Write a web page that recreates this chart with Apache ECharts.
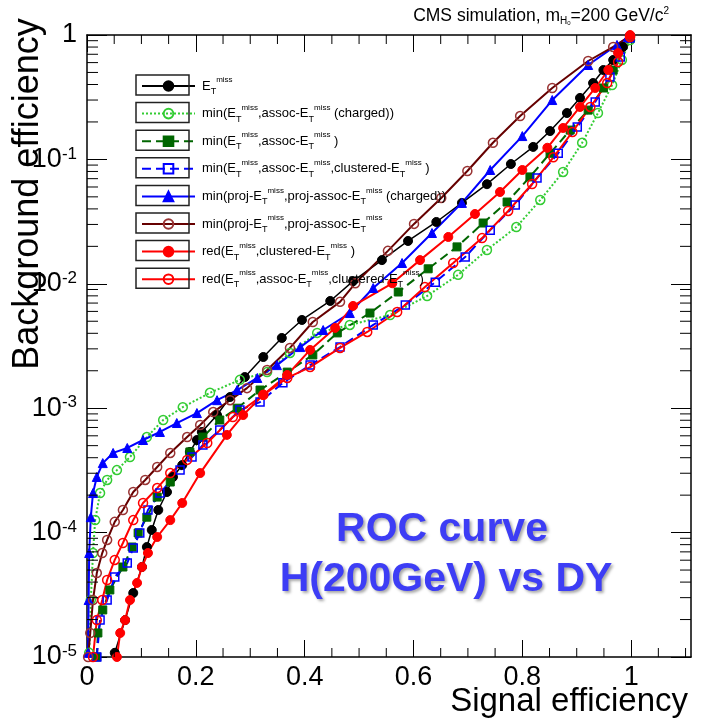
<!DOCTYPE html>
<html>
<head>
<meta charset="utf-8">
<script src="https://cdn.jsdelivr.net/npm/echarts@6/dist/echarts.min.js"></script>
<style>
html,body{margin:0;padding:0;background:#fff;}
#chart{width:702px;height:721px;}
</style>
</head>
<body>
<div id="chart"></div>
<script>
// ---------- data (signal efficiency, background efficiency) ----------
const metPts = [[0.051,1.08e-5],[0.070,1.98e-5],[0.085,3.27e-5],[0.101,5.29e-5],[0.110,7.66e-5],[0.119,1.05e-4],[0.131,1.52e-4],[0.147,2.12e-4],[0.158,2.80e-4],[0.175,3.49e-4],[0.189,4.45e-4],[0.202,5.55e-4],[0.211,6.44e-4],[0.239,8.81e-4],[0.263,1.23e-3],[0.290,1.78e-3],[0.324,2.58e-3],[0.358,3.67e-3],[0.395,5.12e-3],[0.447,7.28e-3],[0.489,1.05e-2],[0.542,1.55e-2],[0.590,2.21e-2],[0.642,3.14e-2],[0.689,4.47e-2],[0.735,6.32e-2],[0.779,9.18e-2],[0.820,0.126],[0.851,0.169],[0.882,0.236],[0.906,0.312],[0.930,0.411],[0.949,0.523],[0.967,0.630],[0.985,0.802],[0.998,0.964]];
const assocChgPts = [[0.004,1.08e-5],[0.007,2.87e-5],[0.011,6.85e-5],[0.015,1.26e-4],[0.024,2.08e-4],[0.037,2.65e-4],[0.055,3.18e-4],[0.079,4.05e-4],[0.110,5.86e-4],[0.140,8.04e-4],[0.176,1.02e-3],[0.226,1.33e-3],[0.281,1.69e-3],[0.331,1.95e-3],[0.373,2.78e-3],[0.423,4.03e-3],[0.483,4.67e-3],[0.557,5.61e-3],[0.625,7.98e-3],[0.682,1.18e-2],[0.735,1.87e-2],[0.789,2.86e-2],[0.833,4.72e-2],[0.875,7.93e-2],[0.910,0.136],[0.939,0.236],[0.965,0.396],[0.983,0.630],[0.998,0.912]];
const assocPts = [[0.018,1.0e-5],[0.020,1.56e-5],[0.029,2.39e-5],[0.042,3.46e-5],[0.066,5.29e-5],[0.083,7.66e-5],[0.094,9.93e-5],[0.110,1.33e-4],[0.129,1.93e-4],[0.153,2.55e-4],[0.189,4.45e-4],[0.213,5.86e-4],[0.244,8.04e-4],[0.276,1.00e-3],[0.318,1.40e-3],[0.368,1.95e-3],[0.415,2.68e-3],[0.460,4.03e-3],[0.520,5.82e-3],[0.572,8.59e-3],[0.627,1.32e-2],[0.680,1.98e-2],[0.728,3.08e-2],[0.772,4.54e-2],[0.814,7.23e-2],[0.851,0.112],[0.888,0.172],[0.921,0.249],[0.949,0.375],[0.967,0.523],[0.998,0.946]];
const assocClusPts = [[0.018,1.0e-5],[0.024,1.98e-5],[0.037,2.87e-5],[0.051,4.40e-5],[0.074,5.70e-5],[0.085,7.52e-5],[0.097,9.93e-5],[0.112,1.52e-4],[0.134,2.08e-4],[0.171,3.18e-4],[0.193,4.05e-4],[0.213,5.06e-4],[0.244,6.68e-4],[0.281,9.68e-4],[0.318,1.12e-3],[0.360,1.60e-3],[0.410,2.22e-3],[0.465,3.10e-3],[0.526,4.67e-3],[0.585,6.76e-3],[0.640,1.03e-2],[0.695,1.64e-2],[0.741,2.70e-2],[0.787,4.30e-2],[0.827,7.08e-2],[0.866,0.112],[0.901,0.182],[0.934,0.289],[0.961,0.459],[0.980,0.665],[0.998,0.946]];
const projChgPts = [[0.002,1.08e-5],[0.003,2.87e-5],[0.004,6.85e-5],[0.007,1.33e-4],[0.011,2.08e-4],[0.018,2.80e-4],[0.029,3.62e-4],[0.048,4.37e-4],[0.074,4.79e-4],[0.103,5.55e-4],[0.134,6.44e-4],[0.165,7.60e-4],[0.202,9.14e-4],[0.239,1.16e-3],[0.276,1.40e-3],[0.313,1.75e-3],[0.349,2.22e-3],[0.392,3.10e-3],[0.434,4.25e-3],[0.483,5.82e-3],[0.526,9.25e-3],[0.579,1.47e-2],[0.634,2.56e-2],[0.689,4.47e-2],[0.741,8.22e-2],[0.800,0.154],[0.855,0.300],[0.921,0.574],[0.974,0.832],[0.994,0.964]];
const projPts = [[0.002,1.0e-5],[0.006,1.56e-5],[0.011,2.87e-5],[0.018,4.73e-5],[0.028,6.85e-5],[0.037,8.73e-5],[0.051,1.22e-4],[0.066,1.52e-4],[0.085,2.12e-4],[0.107,2.65e-4],[0.129,3.37e-4],[0.153,4.37e-4],[0.184,5.86e-4],[0.208,7.33e-4],[0.232,9.31e-4],[0.263,1.16e-3],[0.294,1.45e-3],[0.331,2.03e-3],[0.373,3.05e-3],[0.415,4.93e-3],[0.465,7.16e-3],[0.493,1.01e-2],[0.553,1.84e-2],[0.601,3.03e-2],[0.651,4.90e-2],[0.699,8.07e-2],[0.746,0.136],[0.796,0.223],[0.855,0.375],[0.921,0.618],[0.967,0.802],[0.998,0.982]];
const redClusPts = [[0.055,1.0e-5],[0.061,1.56e-5],[0.070,1.98e-5],[0.079,2.87e-5],[0.092,3.94e-5],[0.101,5.29e-5],[0.112,6.85e-5],[0.129,9.22e-5],[0.153,1.26e-4],[0.175,1.73e-4],[0.208,3.01e-4],[0.257,6.10e-4],[0.287,8.81e-4],[0.324,1.28e-3],[0.368,1.85e-3],[0.410,2.94e-3],[0.456,4.42e-3],[0.489,6.64e-3],[0.561,1.01e-2],[0.612,1.55e-2],[0.664,2.38e-2],[0.713,3.64e-2],[0.759,5.47e-2],[0.800,8.22e-2],[0.846,0.124],[0.875,0.179],[0.906,0.264],[0.934,0.375],[0.958,0.523],[0.976,0.716],[0.998,1.0]];
const redAssocClusPts = [[0.011,1.0e-5],[0.018,1.98e-5],[0.028,2.87e-5],[0.037,4.16e-5],[0.051,6.03e-5],[0.066,8.25e-5],[0.085,1.26e-4],[0.103,1.73e-4],[0.129,2.28e-4],[0.153,3.01e-4],[0.184,3.84e-4],[0.221,5.25e-4],[0.268,8.49e-4],[0.324,1.28e-3],[0.368,1.75e-3],[0.410,2.14e-3],[0.465,3.05e-3],[0.515,4.10e-3],[0.570,5.93e-3],[0.621,9.42e-3],[0.673,1.47e-2],[0.726,2.33e-2],[0.774,3.85e-2],[0.818,6.34e-2],[0.857,0.104],[0.892,0.166],[0.925,0.264],[0.956,0.411],[0.976,0.607],[0.998,0.964]];

const seriesNames = [
  'E_T^miss',
  'min(E_T^miss,assoc-E_T^miss (charged))',
  'min(E_T^miss,assoc-E_T^miss )',
  'min(E_T^miss,assoc-E_T^miss,clustered-E_T^miss )',
  'min(proj-E_T^miss,proj-assoc-E_T^miss (charged))',
  'min(proj-E_T^miss,proj-assoc-E_T^miss',
  'red(E_T^miss,clustered-E_T^miss )',
  'red(E_T^miss,assoc-E_T^miss,clustered-E_T^miss)'
];
const xTicks = [0, 0.2, 0.4, 0.6, 0.8, 1];
const yTicks = [1e-5, 1e-4, 1e-3, 1e-2, 1e-1, 1];
const X_MIN = 0, X_MAX = 1.11;

// minor ticks (axis decoration)
const xMinor = [];
for (let i = 1; i <= 22; i++) { if (i % 4 !== 0) xMinor.push(+(i * 0.05).toFixed(2)); }
const yMinor = [];
for (let e = -5; e < 0; e++) { for (let m = 2; m <= 9; m++) yMinor.push(m * Math.pow(10, e)); }

const FONT = 'Liberation Sans, Arial, Helvetica, sans-serif';
const chart = echarts.init(document.getElementById('chart'), null, {renderer: 'canvas'});

function mk(name, data, color, symbol, filled, lineType, lw, markerColor) {
  const mc = markerColor || color;
  return {
    name: name, type: 'line', data: data,
    symbol: symbol, symbolSize: symbol === 'triangle' ? 9 : (symbol === 'rect' ? 8 : 9),
    showAllSymbol: true, clip: true,
    lineStyle: {color: color, width: lw, type: lineType},
    itemStyle: filled ? {color: mc, borderColor: mc, borderWidth: 1}
                      : {color: 'rgba(255,255,255,0)', borderColor: mc, borderWidth: 1.5},
    emphasis: {disabled: true}
  };
}

const tickSeries = {
  type: 'custom', silent: true, clip: false, z: 10,
  data: xMinor.map(v => [v, 'x']).concat(yMinor.map(v => [v, 'y'])),
  dimensions: ['v', 'k'],
  encode: {x: -1, y: -1},
  renderItem: function (params, api) {
    const v = api.value(0);
    const kind = api.value(1);
    const st = {stroke: '#000', lineWidth: 1};
    if (kind === 'x') {
      const pb = api.coord([v, 1e-5]);
      const pt = api.coord([v, 1]);
      return {type: 'group', children: [
        {type: 'line', shape: {x1: pb[0], y1: pb[1], x2: pb[0], y2: pb[1] - 9}, style: st},
        {type: 'line', shape: {x1: pt[0], y1: pt[1], x2: pt[0], y2: pt[1] + 9}, style: st}
      ]};
    }
    const pl = api.coord([X_MIN, v]);
    const pr = api.coord([X_MAX, v]);
    return {type: 'group', children: [
      {type: 'line', shape: {x1: pl[0], y1: pl[1], x2: pl[0] + 11, y2: pl[1]}, style: st},
      {type: 'line', shape: {x1: pr[0], y1: pr[1], x2: pr[0] - 11, y2: pr[1]}, style: st}
    ]};
  }
};

const axisLine = {show: true, onZero: false, lineStyle: {color: '#000', width: 1.5}};

const legendBoxes = seriesNames.map((n, i) => ({
  type: 'rect', z: 100,
  shape: {x: 136, y: 75 + i * 27.6, width: 53, height: 20},
  style: {fill: 'none', stroke: '#222', lineWidth: 1.5}
}));

const option = {
  backgroundColor: '#ffffff',
  animation: false,
  textStyle: {fontFamily: FONT},
  title: {
    text: 'CMS simulation, m{sub|H}{tiny|0}=200 GeV/c{sup|2}',
    right: 28, top: 1,
    textStyle: {
      fontSize: 17.5, fontWeight: 'normal', color: '#000', fontFamily: FONT, lineHeight: 20,
      rich: {
        sub: {fontSize: 10, verticalAlign: 'bottom', lineHeight: 10, fontFamily: FONT},
        tiny: {fontSize: 6, verticalAlign: 'bottom', lineHeight: 12, fontFamily: FONT},
        sup: {fontSize: 10, verticalAlign: 'top', lineHeight: 10, fontFamily: FONT}
      }
    }
  },
  grid: {left: 87, right: 11, top: 35, bottom: 64, containLabel: false, outerBoundsMode: 'none'},
  legend: {
    data: seriesNames, orient: 'vertical', left: 136, top: 71,
    itemWidth: 53, itemHeight: 12, itemGap: 7.6, selectedMode: false,
    textStyle: {
      fontSize: 13, fontFamily: FONT, color: '#000', lineHeight: 20, padding: [0, 0, 0, 2],
      rich: {
        t: {fontSize: 9, verticalAlign: 'bottom', lineHeight: 9, fontFamily: FONT, color: '#000'},
        m: {fontSize: 8, verticalAlign: 'top', lineHeight: 9, fontFamily: FONT, color: '#000'}
      }
    },
    formatter: function (name) {
      return name.replace(/E_T\^miss/g, 'E{t|T}{m|miss}');
    }
  },
  xAxis: [{
    type: 'value', min: X_MIN, max: X_MAX, position: 'bottom',
    axisLine: axisLine,
    axisTick: {show: true, inside: true, length: 17, lineStyle: {color: '#000', width: 1}, customValues: xTicks},
    axisLabel: {
      show: true, customValues: xTicks, fontSize: 27, color: '#000', fontFamily: FONT, margin: 7,
      formatter: v => String(Math.round(v * 10) / 10)
    },
    splitLine: {show: false}
  }, {
    type: 'value', min: X_MIN, max: X_MAX, position: 'top',
    axisLine: axisLine,
    axisTick: {show: true, inside: true, length: 17, lineStyle: {color: '#000', width: 1}, customValues: xTicks},
    axisLabel: {show: false},
    splitLine: {show: false}
  }],
  yAxis: [{
    type: 'log', logBase: 10, min: 1e-5, max: 1, position: 'left',
    axisLine: axisLine,
    axisTick: {show: true, inside: true, length: 20, lineStyle: {color: '#000', width: 1}, customValues: yTicks},
    axisLabel: {
      show: true, customValues: yTicks, margin: 10, color: '#000', fontFamily: FONT,
      formatter: function (v) {
        if (v > 0.5) return '{b|1}';
        const e = Math.round(Math.log10(v));
        return '{b|10}{s|' + e + '}';
      },
      rich: {
        b: {fontSize: 27, lineHeight: 28, fontFamily: FONT, color: '#000'},
        s: {fontSize: 17, lineHeight: 17, verticalAlign: 'top', fontFamily: FONT, color: '#000'}
      }
    },
    splitLine: {show: false}
  }, {
    type: 'log', logBase: 10, min: 1e-5, max: 1, position: 'right',
    axisLine: axisLine,
    axisTick: {show: true, inside: true, length: 20, lineStyle: {color: '#000', width: 1}, customValues: yTicks},
    axisLabel: {show: false},
    splitLine: {show: false}
  }],
  graphic: legendBoxes.concat([
    {
      type: 'text', x: 28, y: 194, rotation: Math.PI / 2, z: 100,
      style: {text: 'Background efficiency', font: '36px ' + FONT, fill: '#000', textAlign: 'center', textVerticalAlign: 'middle'}
    },
    {
      type: 'text', x: 688, y: 702, z: 100,
      style: {text: 'Signal efficiency', font: '33px ' + FONT, fill: '#000', textAlign: 'right', textVerticalAlign: 'middle'}
    },
    {
      type: 'text', x: 442, y: 530, z: 100,
      style: {text: 'ROC curve', font: 'bold 41px ' + FONT, fill: '#3d3df5', textAlign: 'center', textVerticalAlign: 'middle',
        textShadowColor: 'rgba(0,0,0,0.35)', textShadowBlur: 3, textShadowOffsetX: 2, textShadowOffsetY: 2}
    },
    {
      type: 'text', x: 446, y: 580, z: 100,
      style: {text: 'H(200GeV) vs DY', font: 'bold 41px ' + FONT, fill: '#3d3df5', textAlign: 'center', textVerticalAlign: 'middle',
        textShadowColor: 'rgba(0,0,0,0.35)', textShadowBlur: 3, textShadowOffsetX: 2, textShadowOffsetY: 2}
    }
  ]),
  series: [
    mk(seriesNames[0], metPts, '#000000', 'circle', true, 'solid', 1.5),
    mk(seriesNames[1], assocChgPts, '#33cc33', 'circle', false, 'dotted', 2),
    mk(seriesNames[2], assocPts, '#006600', 'rect', true, [9, 5], 2),
    mk(seriesNames[3], assocClusPts, '#0000ff', 'rect', false, [9, 5], 2),
    mk(seriesNames[4], projChgPts, '#0000ff', 'triangle', true, 'solid', 2),
    mk(seriesNames[5], projPts, '#660000', 'circle', false, 'solid', 2, '#993333'),
    mk(seriesNames[6], redClusPts, '#ff0000', 'circle', true, 'solid', 2),
    mk(seriesNames[7], redAssocClusPts, '#ff0000', 'circle', false, 'solid', 2),
    tickSeries
  ]
};
chart.setOption(option);
</script>
</body>
</html>
